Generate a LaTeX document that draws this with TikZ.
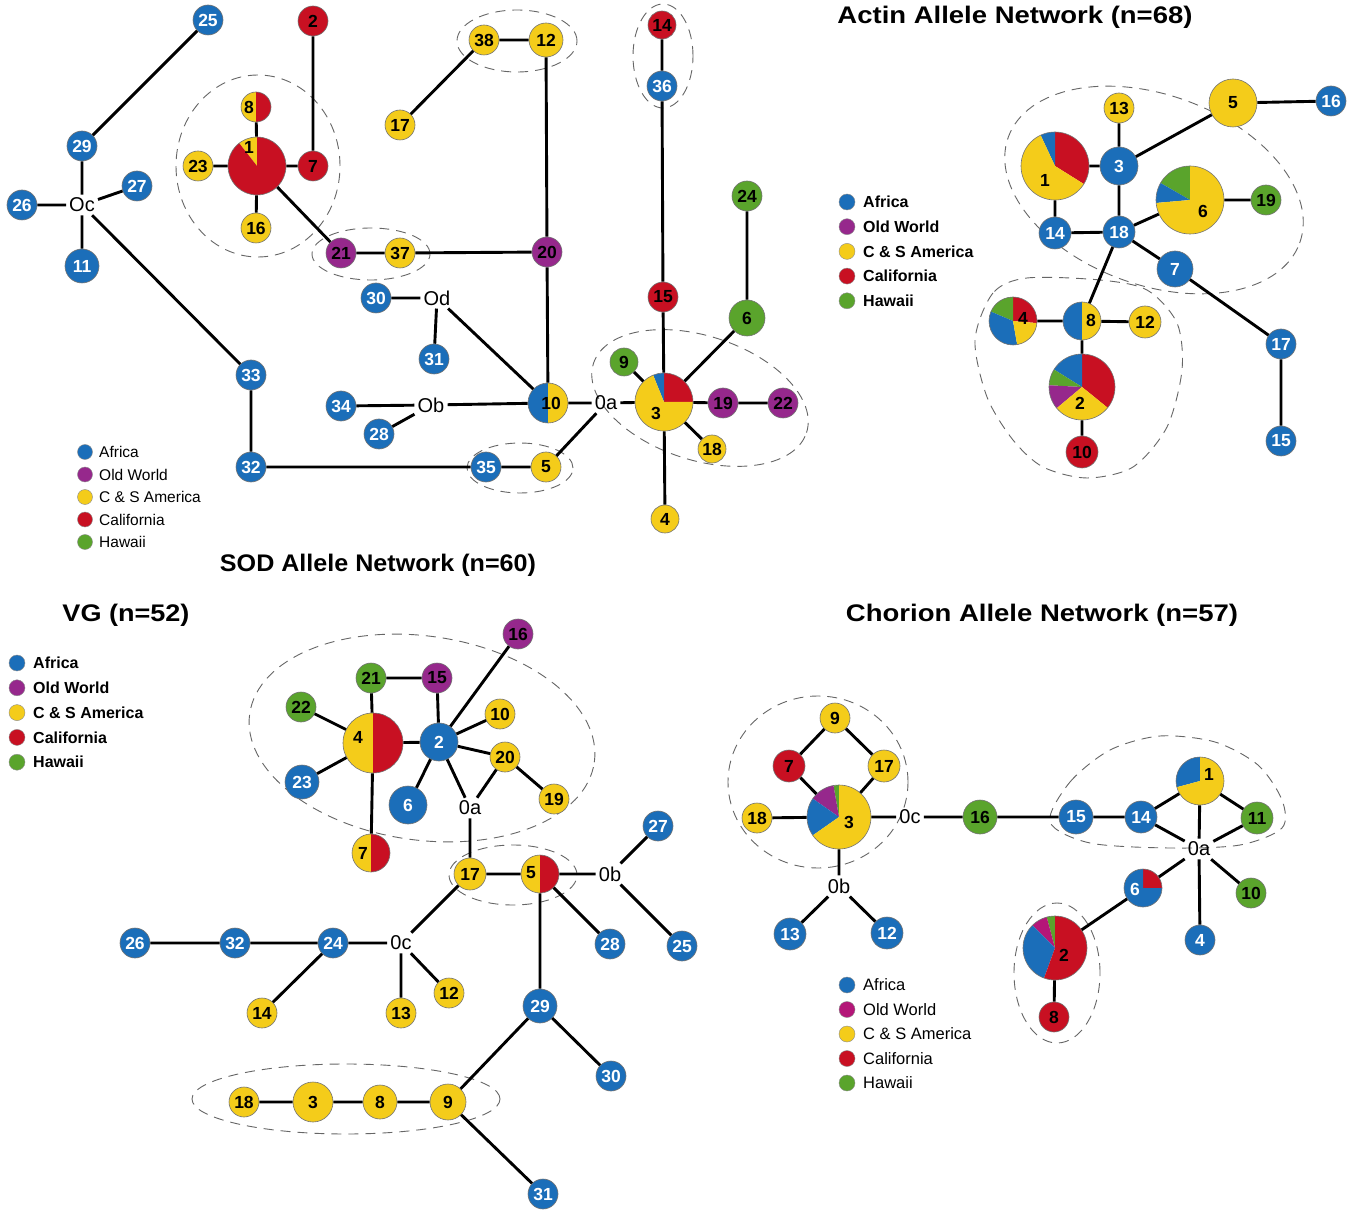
\documentclass[tikz,border=0pt]{standalone}
\usepackage{fontspec}
\setmainfont{Liberation Sans}
\usepackage{graphicx}
\definecolor{cAf}{RGB}{27,110,185}
\definecolor{cOW}{RGB}{150,40,140}
\definecolor{cOWc}{RGB}{180,22,120}
\definecolor{cAm}{RGB}{244,204,26}
\definecolor{cCa}{RGB}{200,16,34}
\definecolor{cHw}{RGB}{90,164,44}
\newcommand\numf{\fontsize{17.5}{17.5}\selectfont\bfseries}
\newcommand\zerof{\fontsize{20}{20}\selectfont}
\newcommand\titf{\fontsize{24}{24}\selectfont\bfseries}
\newcommand\pienode[4]{%
  \foreach \wa/\wb/\wc in {#4}{\fill[\wc] (#2) -- ++(\wa:#3) arc[start angle=\wa, end angle=\wb, radius=#3] -- cycle;}%
  \node[nd, minimum size=2*#3] (#1) at (#2) {};}
\tikzset{
  nd/.style={circle, draw=black!55, line width=0.6pt, inner sep=0pt, font=\numf},
  af/.style={nd, fill=cAf, text=white, minimum size=#1}, af/.default=30,
  ow/.style={nd, fill=cOW, minimum size=#1}, ow/.default=30,
  am/.style={nd, fill=cAm, minimum size=#1}, am/.default=30,
  ca/.style={nd, fill=cCa, minimum size=#1}, ca/.default=30,
  hw/.style={nd, fill=cHw, minimum size=#1}, hw/.default=30,
  lbl/.style={inner sep=0pt, font=\numf},
  zt/.style={inner sep=3pt, font=\zerof},
  lk/.style={line width=2.9pt, black},
  grp/.style={draw=black!60, line width=0.9pt, dash pattern=on 10pt off 7pt},
  ld/.style={circle, draw=black!45, line width=0.4pt, inner sep=0pt, minimum size=15},
  lt/.style={anchor=west, inner sep=0pt},
}
\begin{document}
\begin{tikzpicture}[x=1pt,y=1pt]
\fill[white] (0,0) rectangle (1358,-1214);
\useasboundingbox (0,0) rectangle (1358,-1214);

% ================= SOD =================
\draw[grp] (258,-166) ellipse[x radius=82, y radius=91];
\draw[grp] (371,-254) ellipse[x radius=59, y radius=26];
\draw[grp] (517,-41) ellipse[x radius=60, y radius=31];
\draw[grp] (663,-56) ellipse[x radius=30, y radius=52];
\draw[grp] (520,-468) ellipse[x radius=53, y radius=25];
\draw[grp, rotate around={-18:(700,-398)}] (700,-398) ellipse[x radius=112, y radius=62];

\node[af] (s25) at (208,-20) {25};
\node[ca] (s2) at (313,-21) {2};
\node[af] (s29) at (82,-146) {29};
\node[af] (s27) at (137,-186) {27};
\node[af] (s26) at (22,-205) {26};
\node[zt] (sOc) at (82,-205) {Oc};
\node[af=34] (s11) at (82,-266) {11};
\pienode{s8}{256,-107}{15}{90/270/cAm,-90/90/cCa}
\node[lbl] (s8l) at (249,-107) {8};
\pienode{s1}{257,-166}{29}{90/128/cAm,128/450/cCa}
\node[lbl] (s1l) at (249,-147) {1};
\node[am] (s23) at (198,-166) {23};
\node[ca] (s7) at (313,-166) {7};
\node[am] (s16) at (256,-228) {16};
\node[am] (s17) at (400,-125) {17};
\node[am] (s38) at (484,-40) {38};
\node[am=34] (s12) at (546,-40) {12};
\node[ow] (s21) at (341,-253) {21};
\node[am] (s37) at (400,-253) {37};
\node[ow] (s20) at (547,-252) {20};
\node[ca=28] (s14) at (662,-25) {14};
\node[af] (s36) at (662,-86) {36};
\node[ca] (s15) at (663,-297) {15};
\node[hw] (s24) at (747,-196) {24};
\node[hw=36] (s6) at (747,-318) {6};
\node[af] (s30) at (376,-298) {30};
\node[zt] (sOd) at (437,-298) {Od};
\node[af] (s31) at (434,-359) {31};
\node[af] (s34) at (341,-406) {34};
\node[zt] (sOb) at (431,-405) {Ob};
\node[af] (s28) at (379,-434) {28};
\node[af] (s33) at (251,-375) {33};
\node[af] (s32) at (251,-467) {32};
\node[af] (s35) at (486,-467) {35};
\node[am] (s5) at (546,-467) {5};
\pienode{s10}{548,-403}{20}{90/270/cAf,-90/90/cAm}
\node[lbl] (s10l) at (551,-403) {10};
\node[zt] (s0a) at (606,-403) {0a};
\pienode{s3}{664,-402}{29}{0/90/cCa,90/112/cAf,112/360/cAm}
\node[lbl] (s3l) at (656,-413) {3};
\node[hw=28] (s9) at (624,-362) {9};
\node[ow] (s19) at (723,-403) {19};
\node[ow] (s22) at (783,-403) {22};
\node[am=28] (s18) at (712,-449) {18};
\node[am=28] (s4) at (665,-519) {4};

\draw[lk] (s25)--(s29) (s29)--(sOc) (s26)--(sOc) (s27)--(sOc) (s11)--(sOc)
  (sOc)--(s33) (s33)--(s32) (s32)--(s35) (s35)--(s5) (s5)--(s0a)
  (s1)--(s8) (s1)--(s23) (s1)--(s7) (s1)--(s16) (s7)--(s2) (s1)--(s21)
  (s21)--(s37) (s37)--(s20) (s20)--(s12) (s12)--(s38) (s38)--(s17) (s20)--(s10)
  (s30)--(sOd) (sOd)--(s31) (sOd)--(s10) (s34)--(sOb) (sOb)--(s28) (sOb)--(s10)
  (s10)--(s0a) (s0a)--(s3)
  (s3)--(s9) (s3)--(s15) (s15)--(s36) (s36)--(s14) (s3)--(s6) (s6)--(s24)
  (s3)--(s19) (s19)--(s22) (s3)--(s18) (s3)--(s4);

\foreach \k/\col/\txt in {0/cAf/Africa,1/cOW/Old World,2/cAm/C \& S America,3/cCa/California,4/cHw/Hawaii}{
  \node[ld, fill=\col] (Lsd\k) at (85,-452-22.5*\k) {};
  \node[lt, font=\fontsize{15.5}{16}\selectfont] (Lst\k) at (99,-452-22.5*\k) {\txt};
}
\node[font=\titf] (tSOD) at (378,-565) {\resizebox{316pt}{\height}{SOD Allele Network (n=60)}};

% ================= Actin =================
\node[font=\titf] (tAct) at (1015,-17) {\resizebox{355pt}{\height}{Actin Allele Network (n=68)}};
\draw[grp, rotate around={-20:(1154,-190)}] (1154,-190) ellipse[x radius=155, y radius=95];
\draw[grp] plot[smooth cycle] coordinates {(1027,-278) (993,-293) (975,-340) (987,-397) (1013,-440) (1043,-467) (1087,-478) (1133,-467) (1167,-427) (1182,-370) (1177,-323) (1147,-290) (1100,-280)};

\node[am] (a13) at (1119,-108) {13};
\node[am=48] (a5) at (1233,-103) {5};
\node[af] (a16) at (1331,-101) {16};
\pienode{a1}{1055,-166}{34}{-32/90/cCa,90/115/cAf,115/328/cAm}
\node[lbl] (a1l) at (1045,-180) {1};
\node[af=38] (a3) at (1119,-166) {3};
\node[af=32] (a14) at (1055,-233) {14};
\node[af=32] (a18) at (1119,-232) {18};
\pienode{a6}{1190,-200}{34}{90/150/cHw,150/185/cAf,185/450/cAm}
\node[lbl] (a6l) at (1203,-211) {6};
\node[hw] (a19) at (1266,-200) {19};
\node[af=36] (a7) at (1175,-269) {7};
\node[af] (a17) at (1281,-344) {17};
\node[af] (a15) at (1281,-441) {15};
\pienode{a8}{1082,-321}{19}{90/270/cAf,-90/90/cAm}
\node[lbl] (a8l) at (1091,-320) {8};
\pienode{a4}{1013,-321}{24}{-5/90/cCa,90/157/cHw,157/280/cAf,280/355/cAm}
\node[lbl] (a4l) at (1023,-318) {4};
\node[am=32] (a12) at (1145,-322) {12};
\pienode{a2}{1082,-387}{33}{-39/90/cCa,90/148/cAf,148/177/cHw,177/220/cOW,220/321/cAm}
\node[lbl] (a2l) at (1080,-403) {2};
\node[ca=32] (a10) at (1082,-452) {10};

\draw[lk] (a13)--(a3) (a3)--(a1) (a3)--(a5) (a5)--(a16) (a3)--(a18) (a1)--(a14)
  (a14)--(a18) (a18)--(a6) (a6)--(a19) (a18)--(a7) (a7)--(a17) (a17)--(a15)
  (a18)--(a8) (a8)--(a4) (a8)--(a12) (a8)--(a2) (a2)--(a10);

\foreach \k/\col/\txt in {0/cAf/Africa,1/cOW/Old World,2/cAm/C \& S America,3/cCa/California,4/cHw/Hawaii}{
  \node[ld, minimum size=16, fill=\col] (Lad\k) at (847,-202-24.7*\k) {};
  \node[lt, font=\fontsize{16}{16}\selectfont\bfseries] (Lat\k) at (863,-202-24.7*\k) {\txt};
}

% ================= VG =================
\node[font=\titf] (tVG) at (126,-615) {\resizebox{127pt}{\height}{VG (n=52)}};
\foreach \k/\col/\txt in {0/cAf/Africa,1/cOW/Old World,2/cAm/C \& S America,3/cCa/California,4/cHw/Hawaii}{
  \node[ld, minimum size=16, fill=\col] (Lvd\k) at (17,-663-24.8*\k) {};
  \node[lt, font=\fontsize{16}{16}\selectfont\bfseries] (Lvt\k) at (33,-663-24.8*\k) {\txt};
}
\draw[grp, rotate around={-8:(422,-738)}] (422,-738) ellipse[x radius=174, y radius=102];
\draw[grp] (513,-875) ellipse[x radius=64, y radius=30];
\draw[grp] (346,-1099) ellipse[x radius=154, y radius=35];

\node[ow] (v16) at (518,-634) {16};
\node[hw] (v21) at (371,-678) {21};
\node[ow] (v15) at (437,-678) {15};
\node[hw] (v22) at (301,-707) {22};
\pienode{v4}{373,-743}{30}{90/270/cAm,-90/90/cCa}
\node[lbl] (v4l) at (358,-737) {4};
\node[af=38] (v2) at (439,-742) {2};
\node[am] (v10) at (500,-714) {10};
\node[am] (v20) at (505,-757) {20};
\node[am] (v19) at (554,-799) {19};
\node[af=34] (v23) at (302,-782) {23};
\node[af=38] (v6) at (408,-805) {6};
\node[zt] (v0a) at (470,-808) {0a};
\pienode{v7}{371,-853}{19}{90/270/cAm,-90/90/cCa}
\node[lbl] (v7l) at (363,-853) {7};
\node[am=32] (v17) at (470,-874) {17};
\pienode{v5}{540,-874}{19}{90/270/cAm,-90/90/cCa}
\node[lbl] (v5l) at (531,-873) {5};
\node[zt] (v0b) at (610,-874) {0b};
\node[af] (v27) at (658,-826) {27};
\node[af] (v28) at (610,-944) {28};
\node[af] (v25) at (682,-946) {25};
\node[af] (v26) at (135,-943) {26};
\node[af] (v32) at (235,-943) {32};
\node[af] (v24) at (333,-943) {24};
\node[zt] (v0c) at (401,-943) {0c};
\node[am] (v14) at (262,-1013) {14};
\node[am] (v13) at (401,-1013) {13};
\node[am] (v12) at (449,-993) {12};
\node[af=34] (v29) at (540,-1006) {29};
\node[af] (v30) at (611,-1076) {30};
\node[am] (v18) at (244,-1102) {18};
\node[am=40] (v3) at (313,-1102) {3};
\node[am=34] (v8) at (380,-1102) {8};
\node[am=36] (v9) at (448,-1102) {9};
\node[af] (v31) at (543,-1194) {31};

\draw[lk] (v4)--(v22) (v4)--(v21) (v21)--(v15) (v15)--(v2) (v4)--(v2) (v4)--(v23)
  (v4)--(v7) (v2)--(v16) (v2)--(v10) (v2)--(v20) (v20)--(v19) (v2)--(v6)
  (v2)--(v0a) (v20)--(v0a) (v0a)--(v17) (v17)--(v5) (v5)--(v0b) (v0b)--(v27)
  (v0b)--(v25) (v5)--(v28) (v5)--(v29) (v29)--(v30) (v29)--(v9) (v9)--(v31)
  (v9)--(v8) (v8)--(v3) (v3)--(v18) (v17)--(v0c) (v0c)--(v24) (v24)--(v32)
  (v32)--(v26) (v24)--(v14) (v0c)--(v13) (v0c)--(v12);

% ================= Chorion =================
\node[font=\titf] (tCho) at (1042,-615) {\resizebox{392pt}{\height}{Chorion Allele Network (n=57)}};
\draw[grp] (818,-782) ellipse[x radius=90, y radius=86];
\draw[grp] plot[smooth cycle] coordinates {(1050,-822) (1070,-782) (1110,-750) (1160,-736) (1215,-742) (1258,-765) (1282,-800) (1282,-828) (1240,-845) (1170,-848) (1090,-843)};
\draw[grp] (1057,-973) ellipse[x radius=43, y radius=70];

\node[am] (c9) at (835,-718) {9};
\node[ca=32] (c7) at (789,-766) {7};
\node[am=32] (c17) at (884,-766) {17};
\node[am] (c18) at (757,-818) {18};
\pienode{c3}{839,-817}{32}{90/100/cHw,100/145/cOW,145/215/cAf,215/450/cAm}
\node[lbl] (c3l) at (849,-822) {3};
\node[zt] (c0c) at (910,-817) {0c};
\node[hw=34] (c16) at (980,-817) {16};
\node[af=34] (c15) at (1076,-817) {15};
\node[af=32] (c14) at (1141,-817) {14};
\pienode{c1}{1200,-781}{24}{90/195/cAf,195/450/cAm}
\node[lbl] (c1l) at (1209,-774) {1};
\node[hw=32] (c11) at (1257,-818) {11};
\node[zt] (c0a) at (1199,-849) {0a};
\pienode{c6}{1143,-888}{19}{0/90/cCa,90/360/cAf}
\node[lbl, text=white] (c6l) at (1135,-889) {6};
\node[hw] (c10) at (1251,-893) {10};
\node[af] (c4) at (1200,-940) {4};
\pienode{c2}{1055,-948}{32}{90/105/cHw,105/135/cOWc,135/250/cAf,250/450/cCa}
\node[lbl] (c2l) at (1064,-955) {2};
\node[ca] (c8) at (1054,-1017) {8};
\node[zt] (c0b) at (839,-886) {0b};
\node[af=32] (c13) at (790,-934) {13};
\node[af=32] (c12) at (887,-933) {12};

\draw[lk] (c9)--(c7) (c9)--(c17) (c7)--(c3) (c17)--(c3) (c18)--(c3) (c3)--(c0c)
  (c0c)--(c16) (c16)--(c15) (c15)--(c14) (c14)--(c1) (c1)--(c11) (c1)--(c0a)
  (c14)--(c0a) (c11)--(c0a) (c0a)--(c6) (c6)--(c2) (c2)--(c8) (c0a)--(c10)
  (c0a)--(c4) (c3)--(c0b) (c0b)--(c13) (c0b)--(c12);

\foreach \k/\col/\txt in {0/cAf/Africa,1/cOWc/Old World,2/cAm/C \& S America,3/cCa/California,4/cHw/Hawaii}{
  \node[ld, minimum size=16, fill=\col] (Lcd\k) at (847,-985-24.5*\k) {};
  \node[lt, font=\fontsize{16.5}{17}\selectfont] (Lct\k) at (863,-985-24.5*\k) {\txt};
}
\end{tikzpicture}
\end{document}
